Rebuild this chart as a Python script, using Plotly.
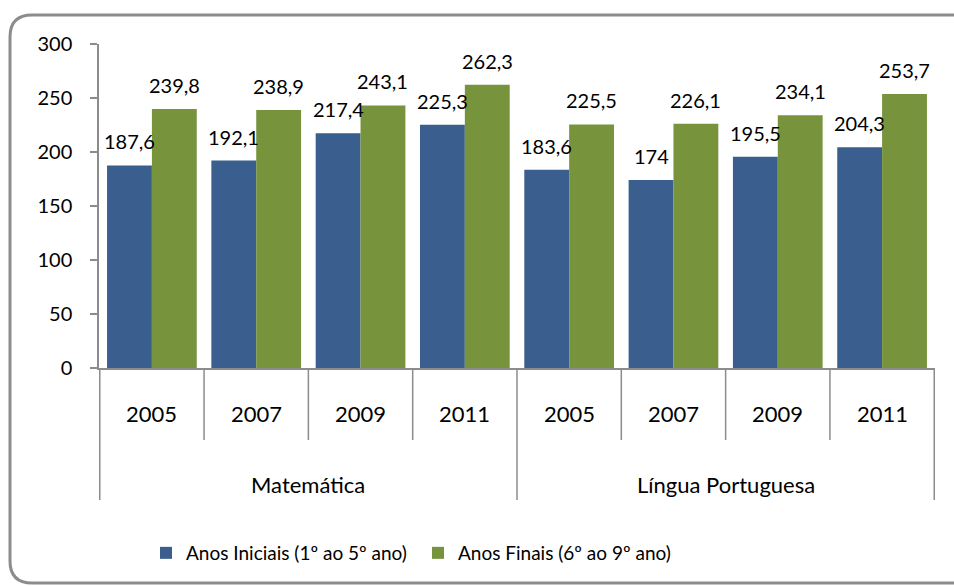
import plotly.graph_objects as go

disciplinas = ["Matemática"] * 4 + ["Língua Portuguesa"] * 4
anos = ["2005", "2007", "2009", "2011"] * 2
iniciais = [187.6, 192.1, 217.4, 225.3, 183.6, 174, 195.5, 204.3]
finais = [239.8, 238.9, 243.1, 262.3, 225.5, 226.1, 234.1, 253.7]
grupos = ["Matemática", "Língua Portuguesa"]

nome_iniciais = "Anos Iniciais (1º ao 5º ano)"
nome_finais = "Anos Finais (6º ao 9º ano)"

azul = "#3A5F8E"
verde = "#77933C"
cinza = "#8C8C8C"
fonte = "Lato"

W, H = 954, 586
L, R, T, B = 99, 19, 44, 218
pw, ph = W - L - R, H - T - B


def px(x):
    return (x - L) / pw


def py(y):
    return (H - B - y) / ph


def fmt(v):
    return f"{v:g}".replace(".", ",")


fig = go.Figure()
fig.add_trace(go.Bar(x=[disciplinas, anos], y=iniciais, name=nome_iniciais,
                     marker=dict(color=azul, line=dict(width=0))))
fig.add_trace(go.Bar(x=[disciplinas, anos], y=finais, name=nome_finais,
                     marker=dict(color=verde, line=dict(width=0))))

# rótulos de dados
bw = (1 - 0.14) / 2
for i in range(len(anos)):
    for serie, off in ((iniciais, -bw / 2), (finais, bw / 2)):
        fig.add_annotation(x=i + off, y=serie[i], text=fmt(serie[i]),
                           showarrow=False, yanchor="bottom", yshift=10,
                           font=dict(family=fonte, size=20, color="black"))

# rótulos do eixo de categorias (anos e disciplinas)
for i, a in enumerate(anos):
    fig.add_annotation(x=i, y=py(413), yref="paper", text=a, showarrow=False,
                       yanchor="middle", font=dict(family=fonte, size=22, color="black"))
for j, g in enumerate(grupos):
    fig.add_annotation(x=j * 4 + 1.5, y=py(484), yref="paper", text=g, showarrow=False,
                       yanchor="middle", font=dict(family=fonte, size=22, color="black"))

# linhas divisórias da tabela de categorias
for i in range(len(anos) + 1):
    longa = i % 4 == 0
    fig.add_shape(type="line", x0=i - 0.5, x1=i - 0.5, y0=0,
                  y1=py(500) if longa else py(440), yref="paper",
                  line=dict(color=cinza, width=1.5))

# moldura arredondada (o lado direito fica fora da imagem)
x0, x1, y0, y1, r = px(10), px(990), py(583), py(15), 22
rx, ry = r / pw, r / ph
path = (f"M{x0 + rx},{y1} L{x1 - rx},{y1} Q{x1},{y1} {x1},{y1 - ry} "
        f"L{x1},{y0 + ry} Q{x1},{y0} {x1 - rx},{y0} L{x0 + rx},{y0} "
        f"Q{x0},{y0} {x0},{y0 + ry} L{x0},{y1 - ry} Q{x0},{y1} {x0 + rx},{y1} Z")
fig.add_shape(type="path", path=path, xref="paper", yref="paper",
              line=dict(color=cinza, width=3), layer="below")

fig.update_layout(
    width=W, height=H,
    margin=dict(l=L, r=R, t=T, b=B),
    paper_bgcolor="white", plot_bgcolor="white",
    barmode="group", bargap=0.14, bargroupgap=0,
    separators=",.",
    font=dict(family=fonte, size=20, color="black"),
    showlegend=True,
    legend=dict(orientation="h", x=px(146), xanchor="left", y=py(553),
                yanchor="middle", font=dict(family=fonte, size=19),
                entrywidth=227, entrywidthmode="pixels"),
)
fig.update_yaxes(range=[0, 300], tickvals=[0, 50, 100, 150, 200, 250, 300],
                 showgrid=False, zeroline=False, showline=True, linecolor=cinza,
                 linewidth=1.5, ticks="outside", ticklen=7, tickcolor=cinza,
                 tickwidth=1.5, ticklabelstandoff=14,
                 tickfont=dict(family=fonte, size=20))
fig.update_xaxes(showgrid=False, showline=True, linecolor=cinza, linewidth=1.5,
                 ticks="", showticklabels=False, showdividers=False)

fig.write_html("out.html", config={"displayModeBar": False},
               post_script="document.body.style.margin = '0';"
                           "document.body.style.overflow = 'hidden';")
